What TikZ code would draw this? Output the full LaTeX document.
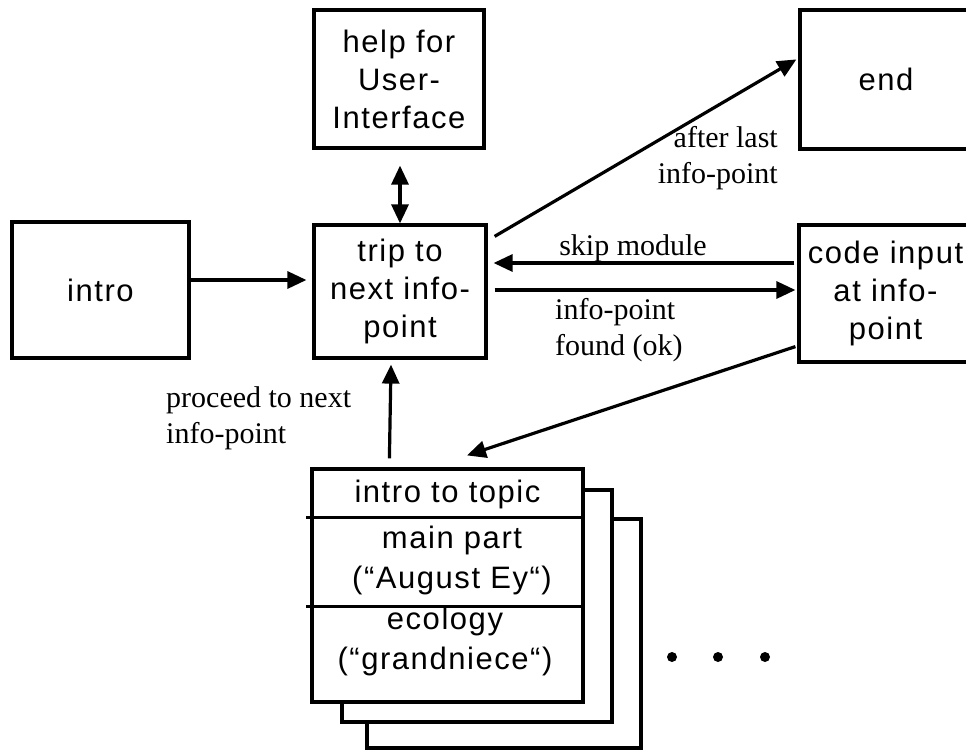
\documentclass[tikz,border=0pt]{standalone}
\usepackage{fontspec}
\setmainfont{Liberation Serif}
\newfontfamily\boxfont[LetterSpace=5]{Liberation Sans}
\usetikzlibrary{arrows.meta,calc}
\tikzset{
  box/.style={draw, line width=3.2pt, fill=white, inner sep=0pt, align=center,
    font=\boxfont\fontsize{31}{38}\selectfont},
  boxtext/.style={inner sep=0pt, align=center, font=\boxfont\fontsize{31}{40}\selectfont},
  lbl/.style={inner sep=0pt, font=\fontsize{30}{36}\selectfont},
  conn/.style={line width=3.2pt, -{Triangle[length=19pt,width=17pt]}},
  conn2/.style={line width=3.2pt, {Triangle[length=19pt,width=17pt]}-{Triangle[length=19pt,width=17pt]}},
  dot/.style={circle, fill=black, inner sep=0pt, minimum size=10pt}
}
\begin{document}
\begin{tikzpicture}[x=1pt,y=-1pt]
\useasboundingbox (0,0) rectangle (966,752);
% nodes
\node[box, minimum width=177pt, minimum height=136pt] (intro) at (100.5,290) {intro};
\node[box, minimum width=172pt, minimum height=133pt] (trip) at (400,291.5) {trip to\\next info-\\point};
\node[box, minimum width=170pt, minimum height=138pt] (help) at (399,79) {help for\\User-\\Interface};
\node[box, minimum width=172pt, minimum height=139pt] (end) at (886,79.5) {end};
\node[box, minimum width=173pt, minimum height=137pt] (code) at (885.5,293.5) {code input\\at info-\\point};
% stack of topic modules
\node[box, minimum width=274pt, minimum height=229pt] (third) at (504,633.5) {};
\node[box, minimum width=270pt, minimum height=232pt] (second) at (477,606) {};
\node[box, minimum width=271pt, minimum height=233pt] (topic) at (447.5,585.5) {};
\coordinate (d1) at ($(topic.north west)+(-4,50)$);
\coordinate (d2) at ($(topic.north west)+(-4,139)$);
\draw[line width=3.2pt] (d1) -- (d1 -| topic.east);
\draw[line width=3.2pt] (d2) -- (d2 -| topic.east);
\node[boxtext] (t1) at (447.5,494) {intro to topic};
\node[boxtext] (t2) at (452,560) {main part\\(“August Ey“)};
\node[boxtext] (t3) at (445,641) {ecology\\(“grandniece“)};
% dots
\node[dot] (p1) at (672,657) {};
\node[dot] (p2) at (718,657) {};
\node[dot] (p3) at (765,657) {};
% connectors
\draw[conn] ($(intro.east)+(0,-10)$) -- ($(trip.west)+(-6,-11.5)$);
\draw[conn2] ($(help.south)+(1,16)$) -- (trip.north);
\draw[conn] ($(trip.north east)+(7,13)$) -- ($(end.north west)+(-2,51)$);
\draw[conn] ($(code.west)+(-3,-30.5)$) -- ($(trip.east)+(6,-28.5)$);
\draw[conn] ($(trip.east)+(7,-1.5)$) -- ($(code.west)+(-2,-3.5)$);
\draw[conn] ($(code.south west)+(-2,-17)$) -- ($(topic.north)+(19.5,-12)$);
\draw[conn] ($(topic.north west)+(79,-9)$) -- ($(trip.south)+(-9,5)$);
% labels
\node[lbl, anchor=east, align=right] (l1) at (778,158) {after last\\info-point};
\node[lbl] (l2) at (633,248) {skip module};
\node[lbl, anchor=west, align=left] (l3) at (555,330) {info-point\\found (ok)};
\node[lbl, anchor=west, align=left] (l4) at (166,418) {proceed to next\\info-point};
\end{tikzpicture}
\end{document}
